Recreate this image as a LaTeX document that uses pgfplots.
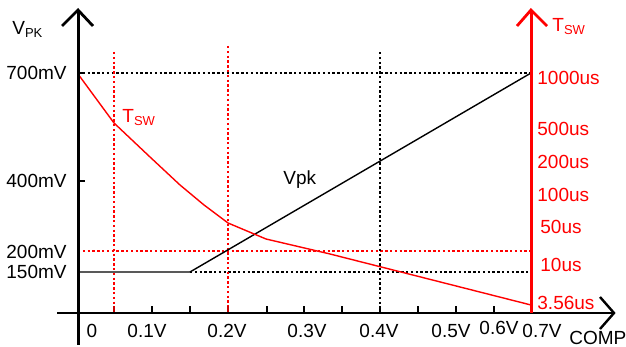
\documentclass[border=0pt]{standalone}
\usepackage{fontspec}
\setmainfont{Liberation Sans}
\usepackage{pgfplots}
\pgfplotsset{compat=1.18}
\newcommand{\subtxt}[1]{\raisebox{-1.3pt}{\fontsize{6.5}{7}\selectfont #1}}
\begin{document}
\begin{tikzpicture}[
  lbl/.style={font=\fontsize{9.5}{11}\selectfont, inner sep=0pt},
  dot/.style={line width=0.6pt, dash pattern=on 1.2pt off 1.2pt}]
\begin{axis}[name=ax, scale only axis, width=313pt, height=173.5pt,
  xmin=0, xmax=626, ymin=0, ymax=347, hide axis, clip=false]
% dotted guide lines
\draw[dot, black] (axis cs:78,274) -- (axis cs:531,274);
\draw[dot, black] (axis cs:190,75) -- (axis cs:531,75);
\draw[dot, red] (axis cs:78,96) -- (axis cs:531,96);
\draw[dot, red] (axis cs:114,295) -- (axis cs:114,34);
\draw[dot, red] (axis cs:228,301) -- (axis cs:228,34);
\draw[dot, black] (axis cs:380,295) -- (axis cs:380,34);
% x ticks
\pgfplotsinvokeforeach{152,190,267,304,342,380,418,456,494}{
  \draw[line width=1pt] (axis cs:#1,34) -- (axis cs:#1,41);
}
\pgfplotsinvokeforeach{114,228}{
  \draw[line width=1pt, red!80!black] (axis cs:#1,34) -- (axis cs:#1,41);
}
% y ticks left
\draw[line width=1pt] (axis cs:78,274) -- (axis cs:85,274);
\draw[line width=1pt] (axis cs:78,166) -- (axis cs:85,166);
% data: Vpk
\addplot[black, line width=0.7pt] coordinates {(78,75) (190,75) (531,274)};
% data: Tsw
\addplot[red, line width=0.7pt] coordinates {(78,273) (114,224) (132,207) (150,190) (165,176) (180,162) (204,142) (228,124) (266,108) (330,93) (531,42)};
% axes
\draw[line width=1.4pt] (axis cs:57,34) -- (axis cs:613,34);
\draw[line width=1.2pt] (axis cs:600,50) -- (axis cs:614,34) -- (axis cs:600,18);
\draw[line width=1.5pt] (axis cs:78,2) -- (axis cs:78,336);
\draw[line width=1.4pt] (axis cs:62,321) -- (axis cs:78,337) -- (axis cs:93,321);
\draw[line width=1.5pt, red] (axis cs:531,34) -- (axis cs:531,336);
\draw[line width=1.4pt, red] (axis cs:517,321) -- (axis cs:531,337) -- (axis cs:547,321);
% left labels
\node[lbl, anchor=east] at (axis cs:67,274) {700mV};
\node[lbl, anchor=east] at (axis cs:67,166) {400mV};
\node[lbl, anchor=east] at (axis cs:67,95) {200mV};
\node[lbl, anchor=east] at (axis cs:67,75) {150mV};
\node[lbl, anchor=base west] at (axis cs:12,312) {V\subtxt{PK}};
% right labels
\node[lbl, red, anchor=west] at (axis cs:537,269) {1000us};
\node[lbl, red, anchor=west] at (axis cs:537,218) {500us};
\node[lbl, red, anchor=west] at (axis cs:537,185) {200us};
\node[lbl, red, anchor=west] at (axis cs:537,152) {100us};
\node[lbl, red, anchor=west] at (axis cs:540,120) {50us};
\node[lbl, red, anchor=west] at (axis cs:540,82) {10us};
\node[lbl, red, anchor=west] at (axis cs:537,44) {3.56us};
\node[lbl, red, anchor=base west] at (axis cs:552,315) {T\subtxt{SW}};
\node[lbl, red, anchor=base west] at (axis cs:122,224) {T\subtxt{SW}};
\node[lbl, anchor=base west] at (axis cs:283,162) {Vpk};
% x labels
\node[lbl] at (axis cs:92,16) {0};
\node[lbl] at (axis cs:147,16) {0.1V};
\node[lbl] at (axis cs:227,16) {0.2V};
\node[lbl] at (axis cs:307,16) {0.3V};
\node[lbl] at (axis cs:379,16) {0.4V};
\node[lbl] at (axis cs:451,16) {0.5V};
\node[lbl] at (axis cs:499,19) {0.6V};
\node[lbl] at (axis cs:542,16) {0.7V};
\node[lbl, anchor=west] at (axis cs:569,9) {COMP};
\end{axis}
\pgfresetboundingbox
\path (ax.south west) rectangle (ax.north east);
\end{tikzpicture}
\end{document}
